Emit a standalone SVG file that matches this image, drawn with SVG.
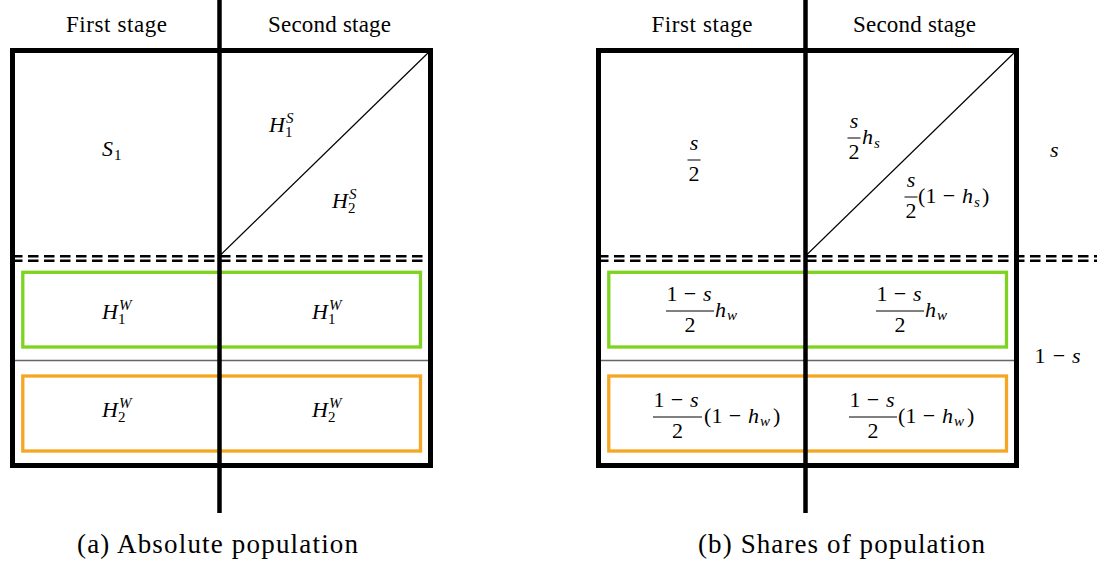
<svg xmlns="http://www.w3.org/2000/svg" width="1108" height="570" viewBox="0 0 1108 570" font-family="Liberation Serif, Times New Roman, Tinos, Noto Serif, DejaVu Serif, FreeSerif, Times, serif">
<style>
text{font-family:"Liberation Serif","Times New Roman",Tinos,"Noto Serif","DejaVu Serif",FreeSerif,Times,serif;fill:#000}
.hdr{font-size:23px;text-anchor:middle}
.cap{font-size:27px;text-anchor:middle}
.m{font-size:22px}
.i{font-style:italic}
.s{font-size:15px}
.mid{text-anchor:middle}
.frame{fill:none;stroke:#000;stroke-width:5}
.axis{stroke:#000;stroke-width:4.5}
.thin{stroke:#666;stroke-width:1.5}
.diag{stroke:#000;stroke-width:1.2}
.dash{stroke:#000;stroke-width:2.6;stroke-dasharray:10.5 5.5}
.green{fill:none;stroke:#7ED321;stroke-width:3.3}
.orange{fill:none;stroke:#F5A623;stroke-width:3.3}
.bar{stroke:#000;stroke-width:1}
</style>

<g id="panelA">
  <line class="thin" x1="12" y1="360.5" x2="431" y2="360.5"/>
  <rect class="green" x="22.8" y="272.3" width="397.7" height="74.7"/>
  <rect class="orange" x="22.8" y="376" width="397.7" height="75"/>
  <rect class="frame" x="12.5" y="50.5" width="418" height="415"/>
</g>

<g id="panelB">
  <line class="thin" x1="598" y1="360.5" x2="1017" y2="360.5"/>
  <rect class="green" x="608.8" y="272.3" width="397.7" height="74.7"/>
  <rect class="orange" x="608.8" y="376" width="397.7" height="75"/>
  <rect class="frame" x="598.5" y="50.5" width="418" height="415"/>
</g>

<g id="connectors">
  <line class="diag" x1="219.5" y1="256" x2="430.5" y2="50.5"/>
  <line class="dash" x1="12" y1="256.3" x2="431" y2="256.3"/>
  <line class="dash" x1="12" y1="260.7" x2="431" y2="260.7"/>
  <line class="axis" x1="219.5" y1="0" x2="219.5" y2="513"/>
  <line class="diag" x1="805.5" y1="256" x2="1016.5" y2="50.5"/>
  <line class="dash" x1="598" y1="256.3" x2="1097" y2="256.3"/>
  <line class="dash" x1="598" y1="260.7" x2="1097" y2="260.7"/>
  <line class="axis" x1="805.5" y1="0" x2="805.5" y2="513"/>
</g>

<g id="headerA">
  <text class="hdr" x="116.5" y="32" textLength="101">First stage</text>
  <text class="hdr" x="329.5" y="32" textLength="123">Second stage</text>
</g>

<g id="nodeA-S1">
  <text class="m i" x="102" y="156">S</text>
  <text class="s" x="114" y="160">1</text>
</g>
<g id="nodeA-H1S">
  <text class="m i" x="269" y="132">H</text>
  <text class="s i" x="286" y="123">S</text>
  <text class="s" x="285" y="137">1</text>
</g>
<g id="nodeA-H2S">
  <text class="m i" x="332" y="208">H</text>
  <text class="s i" x="349" y="199">S</text>
  <text class="s" x="348" y="213">2</text>
</g>
<g id="nodeA-H1W-1">
  <text class="m i" x="102" y="319">H</text>
  <text class="s i" x="119" y="310">W</text>
  <text class="s" x="118" y="324">1</text>
</g>
<g id="nodeA-H1W-2">
  <text class="m i" x="312" y="319">H</text>
  <text class="s i" x="329" y="310">W</text>
  <text class="s" x="328" y="324">1</text>
</g>
<g id="nodeA-H2W-1">
  <text class="m i" x="102" y="417">H</text>
  <text class="s i" x="119" y="408">W</text>
  <text class="s" x="118" y="422">2</text>
</g>
<g id="nodeA-H2W-2">
  <text class="m i" x="312" y="417">H</text>
  <text class="s i" x="329" y="408">W</text>
  <text class="s" x="328" y="422">2</text>
</g>
<text class="cap" x="217.5" y="553" textLength="281">(a) Absolute population</text>

<g id="headerB">
  <text class="hdr" x="702" y="32" textLength="101">First stage</text>
  <text class="hdr" x="914.5" y="32" textLength="123">Second stage</text>
</g>

<g id="nodeB-s2">
  <text class="m i mid" x="694" y="150">s</text>
  <line class="bar" x1="687.5" y1="160" x2="700.5" y2="160"/>
  <text class="m mid" x="694" y="181">2</text>
</g>
<g id="nodeB-hs">
  <text class="m i mid" x="854" y="128">s</text>
  <line class="bar" x1="847.5" y1="138" x2="860.5" y2="138"/>
  <text class="m mid" x="854" y="159">2</text>
  <text class="m i" x="862" y="144">h</text>
  <text class="s i" x="874" y="148">s</text>
</g>
<g id="nodeB-1mhs">
  <text class="m i mid" x="911" y="187">s</text>
  <line class="bar" x1="904.5" y1="197" x2="917.5" y2="197"/>
  <text class="m mid" x="911" y="218">2</text>
  <text class="m" x="918" y="203">(</text>
  <text class="m mid" x="931" y="203">1</text>
  <text class="m mid" x="949" y="203">−</text>
  <text class="m i" x="962" y="203">h</text>
  <text class="s i" x="974" y="207">s</text>
  <text class="m" x="982" y="203">)</text>
</g>
<g id="nodeB-s">
  <text class="m i" x="1050" y="157">s</text>
</g>
<g id="nodeB-1ms">
  <text class="m mid" x="1040" y="363">1</text>
  <text class="m mid" x="1059" y="363">−</text>
  <text class="m i" x="1072" y="363">s</text>
</g>
<g id="nodeB-hw-1">
  <text class="m mid" x="672" y="301">1</text>
  <text class="m mid" x="690" y="301">−</text>
  <text class="m i" x="703" y="301">s</text>
  <line class="bar" x1="666" y1="311" x2="714" y2="311"/>
  <text class="m mid" x="690" y="332">2</text>
  <text class="m i" x="715" y="316.5">h</text>
  <text class="s i" x="727" y="320">w</text>
</g>
<g id="nodeB-hw-2">
  <text class="m mid" x="882" y="301">1</text>
  <text class="m mid" x="900" y="301">−</text>
  <text class="m i" x="913" y="301">s</text>
  <line class="bar" x1="876" y1="311" x2="924" y2="311"/>
  <text class="m mid" x="900" y="332">2</text>
  <text class="m i" x="925" y="316.5">h</text>
  <text class="s i" x="937" y="320">w</text>
</g>
<g id="nodeB-1mhw-1">
  <text class="m mid" x="659" y="407">1</text>
  <text class="m mid" x="677" y="407">−</text>
  <text class="m i" x="690" y="407">s</text>
  <line class="bar" x1="653" y1="417" x2="702" y2="417"/>
  <text class="m mid" x="677.5" y="438">2</text>
  <text class="m" x="704" y="422.5">(</text>
  <text class="m mid" x="717" y="422.5">1</text>
  <text class="m mid" x="735" y="422.5">−</text>
  <text class="m i" x="748" y="422.5">h</text>
  <text class="s i" x="760" y="426">w</text>
  <text class="m" x="773" y="422.5">)</text>
</g>
<g id="nodeB-1mhw-2">
  <text class="m mid" x="855" y="407">1</text>
  <text class="m mid" x="873" y="407">−</text>
  <text class="m i" x="886" y="407">s</text>
  <line class="bar" x1="849" y1="417" x2="897" y2="417"/>
  <text class="m mid" x="873" y="438">2</text>
  <text class="m" x="898" y="422.5">(</text>
  <text class="m mid" x="911" y="422.5">1</text>
  <text class="m mid" x="929" y="422.5">−</text>
  <text class="m i" x="942" y="422.5">h</text>
  <text class="s i" x="954" y="426">w</text>
  <text class="m" x="967" y="422.5">)</text>
</g>
<text class="cap" x="841.5" y="553" textLength="287">(b) Shares of population</text>
</svg>
